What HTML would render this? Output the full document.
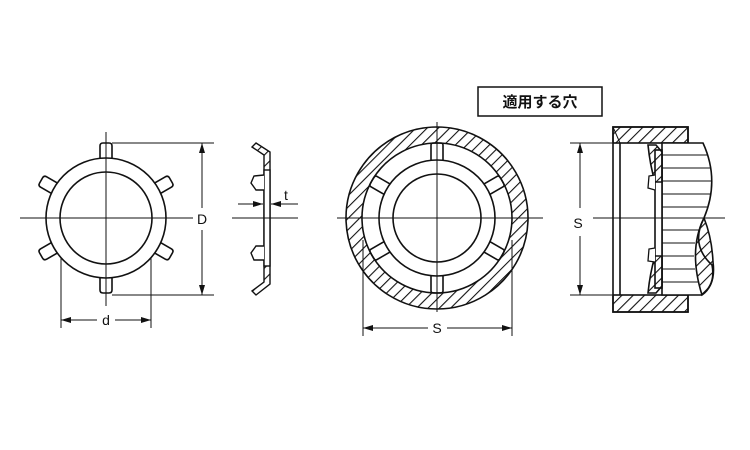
<!DOCTYPE html>
<html><head><meta charset="utf-8"><style>
html,body{margin:0;padding:0;background:#fff;}
svg{display:block;}
</style></head><body>
<svg width="750" height="450" viewBox="0 0 750 450" xmlns="http://www.w3.org/2000/svg" font-family="Liberation Sans, sans-serif">
<defs>
<pattern id="h" patternUnits="userSpaceOnUse" width="8" height="8" patternTransform="rotate(45)">
<line x1="0" y1="0" x2="0" y2="8" stroke="#111" stroke-width="2.2"/>
</pattern>
<marker id="a" markerWidth="10" markerHeight="6" refX="10" refY="3" orient="auto" markerUnits="userSpaceOnUse">
<path d="M0,0 L10,3 L0,6 z" fill="#111"/>
</marker>
</defs>
<g stroke="#111" fill="none" stroke-width="1.6">
<g transform="translate(106,218)">
<circle r="46"/>
<g id="lt"><path d="M-6,-60 L-6,-72 Q-6,-75 -3,-75 L3,-75 Q6,-75 6,-72 L6,-60"/></g>
<use href="#lt" transform="rotate(60)"/>
<use href="#lt" transform="rotate(120)"/>
<use href="#lt" transform="rotate(180)"/>
<use href="#lt" transform="rotate(240)"/>
<use href="#lt" transform="rotate(300)"/>
<circle r="60"/>
</g>
</g>
<g stroke="#111" stroke-width="1" fill="none">
<line x1="20" y1="218" x2="193" y2="218"/>
<line x1="106" y1="132" x2="106" y2="306"/>
<line x1="112" y1="143" x2="214" y2="143"/>
<line x1="112" y1="295" x2="214" y2="295"/>
<line x1="202" y1="208" x2="202" y2="143" marker-end="url(#a)"/>
<line x1="202" y1="230" x2="202" y2="295" marker-end="url(#a)"/>
<line x1="61" y1="258" x2="61" y2="328"/>
<line x1="151" y1="258" x2="151" y2="328"/>
<line x1="97" y1="320" x2="61" y2="320" marker-end="url(#a)"/>
<line x1="115" y1="320" x2="151" y2="320" marker-end="url(#a)"/>
</g>
<text x="202" y="224" font-size="14" text-anchor="middle" fill="#111">D</text>
<text x="106" y="325" font-size="14" text-anchor="middle" fill="#111">d</text>
<g stroke="#111" stroke-width="1.4">
<path d="M256,143 L270,152 L270,262 L270,284 L256,295 L252,291 L264,282 L264,155 L252,147 Z" fill="url(#h)"/>
<rect x="264" y="170" width="6" height="96" fill="#fff"/>
<path d="M264,175 L254,176 L251,183 L256,190 L264,190" fill="#fff"/>
<path d="M264,246 L256,246 L251,253 L254,260 L264,260" fill="#fff"/>
</g>
<g stroke="#111" stroke-width="1" fill="none">
<line x1="232" y1="218" x2="298" y2="218"/>
<line x1="238" y1="204" x2="263" y2="204" marker-end="url(#a)"/>
<line x1="298" y1="204" x2="271" y2="204" marker-end="url(#a)"/>
</g>
<text x="286" y="200" font-size="14" text-anchor="middle" fill="#111">t</text>
<path d="M437,127 a91,91 0 1,0 0.01,0 Z M437,143 a75,75 0 1,1 -0.01,0 Z" fill="url(#h)" fill-rule="evenodd" stroke="#111" stroke-width="1.6"/>
<g stroke="#111" fill="none" stroke-width="1.6" transform="translate(437,218)">
<circle r="44"/>
<g id="mt"><path d="M-6,-58 L-6,-73 Q-6,-75 -3,-75 L3,-75 Q6,-75 6,-73 L6,-58"/></g>
<use href="#mt" transform="rotate(60)"/>
<use href="#mt" transform="rotate(120)"/>
<use href="#mt" transform="rotate(180)"/>
<use href="#mt" transform="rotate(240)"/>
<use href="#mt" transform="rotate(300)"/>
<circle r="58"/>
</g>
<g stroke="#111" stroke-width="1" fill="none">
<line x1="337" y1="218" x2="543" y2="218"/>
<line x1="437" y1="122" x2="437" y2="312"/>
<line x1="363" y1="240" x2="363" y2="336"/>
<line x1="512" y1="240" x2="512" y2="336"/>
<line x1="428" y1="328" x2="363" y2="328" marker-end="url(#a)"/>
<line x1="447" y1="328" x2="512" y2="328" marker-end="url(#a)"/>
</g>
<text x="437" y="333" font-size="14" text-anchor="middle" fill="#111">S</text>
<rect x="478" y="87" width="124" height="29" fill="#fff" stroke="#111" stroke-width="1.5"/>
<text x="540" y="107" font-size="15" font-weight="bold" text-anchor="middle" fill="#111" font-family="Liberation Sans, Noto Sans CJK JP, sans-serif">適用する穴</text>
<g stroke="#111" stroke-width="1.6">
<rect x="613" y="127" width="75" height="16" fill="url(#h)"/>
<rect x="613" y="295" width="75" height="17" fill="url(#h)"/>
<rect x="613" y="127" width="75" height="185" fill="none"/>
<line x1="620" y1="143" x2="620" y2="295"/>
<line x1="613" y1="127" x2="620" y2="143" stroke-width="1"/>
<path d="M662,143 L703,143 Q720,180 704,218 Q690,245 712,265 Q716,285 701,295 L662,295 Z" fill="#fff"/>
<g stroke-width="1">
<line x1="662" y1="155" x2="708" y2="155"/><line x1="662" y1="168" x2="711" y2="168"/>
<line x1="662" y1="181" x2="712" y2="181"/><line x1="662" y1="194" x2="711" y2="194"/>
<line x1="662" y1="207" x2="708" y2="207"/><line x1="662" y1="230" x2="699" y2="230"/>
<line x1="662" y1="243" x2="695" y2="243"/><line x1="662" y1="256" x2="694" y2="256"/>
<line x1="662" y1="269" x2="695" y2="269"/><line x1="662" y1="282" x2="698" y2="282"/>
</g>
<path d="M704,218 Q688,250 702,295 Q716,285 713,262 Q712,238 704,218 Z" fill="url(#h)"/>
<rect x="655" y="150" width="7" height="138" fill="#fff"/>
<path d="M648,145 L656,145 L662,152 L662,182 L655,182 Q650,165 648,145 Z" fill="url(#h)"/>
<path d="M648,293 L656,293 L662,286 L662,256 L655,256 Q650,273 648,293 Z" fill="url(#h)"/>
<path d="M655,175 L649,176 L648,188 L655,190" fill="#fff" stroke-width="1.3"/>
<path d="M655,248 L649,249 L648,261 L655,262" fill="#fff" stroke-width="1.3"/>
</g>
<g stroke="#111" stroke-width="1" fill="none">
<line x1="593" y1="218" x2="725" y2="218"/>
<line x1="570" y1="143" x2="612" y2="143"/>
<line x1="570" y1="295" x2="612" y2="295"/>
<line x1="580" y1="208" x2="580" y2="143" marker-end="url(#a)"/>
<line x1="580" y1="236" x2="580" y2="295" marker-end="url(#a)"/>
</g>
<text x="578" y="228" font-size="14" text-anchor="middle" fill="#111">S</text>
</svg>
</body></html>
